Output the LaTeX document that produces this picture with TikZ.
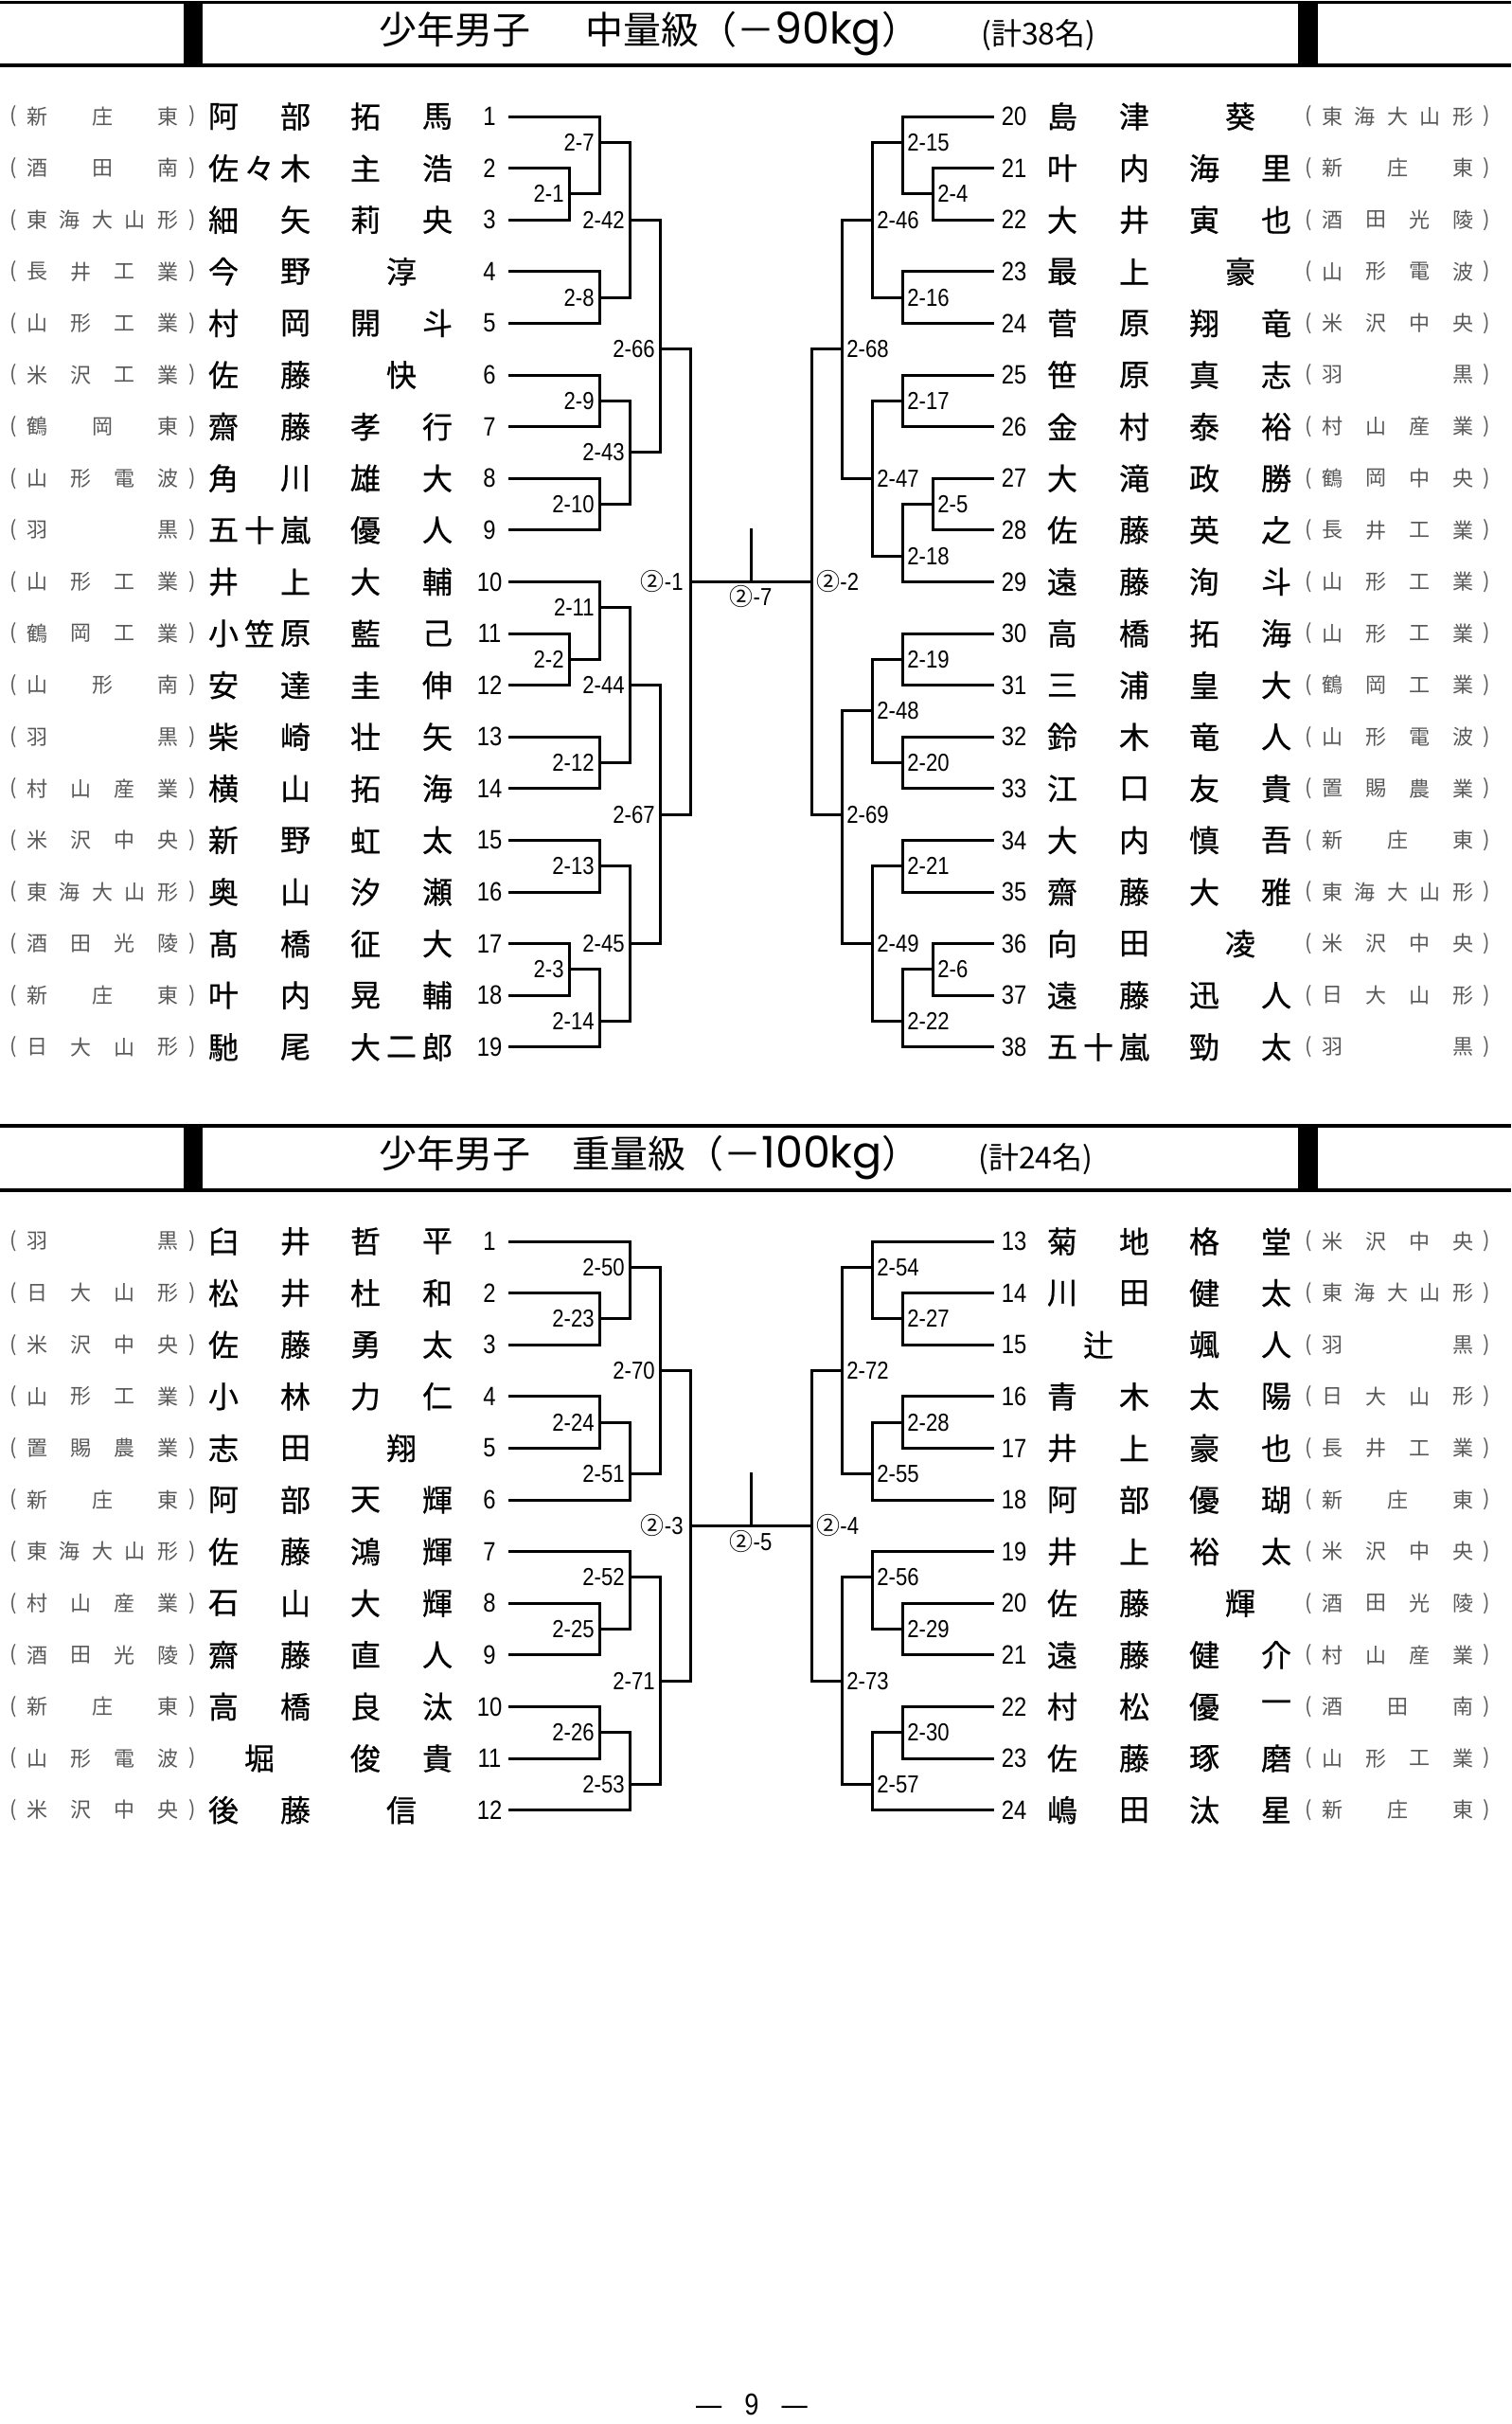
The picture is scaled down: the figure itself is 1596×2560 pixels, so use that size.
\documentclass[tikz,border=0pt]{standalone}
\usepackage{fontspec}
\setmainfont{Liberation Sans}
\newfontfamily\jp{Noto Sans CJK JP}
\newfontfamily\jpb[FakeBold=0.6]{Noto Sans CJK JP}
\newfontfamily\numf[FakeStretch=0.85]{Liberation Sans}
\newfontfamily\kgf{Poppins}
\newcount\spcnt
\newcommand\Spread[5]{%
  \global\spcnt=0
  \foreach \ch in {#5}{\global\advance\spcnt by 1}%
  \ifnum\spcnt=1
    \node[#4] at ({(#1+#2)/2},#3) {#5};%
  \else
    \pgfmathsetmacro\spstep{(#2-#1)/(\the\spcnt-1)}%
    \foreach \ch [count=\i from 0] in {#5}{\node[#4] at ({#1+\i*\spstep},#3) {\ch};}%
  \fi}
\newcommand\EL[5]{%
  \node[par] at (14,#1) {(};\node[par] at (203,#1) {)};
  \Spread{39}{177}{#1}{sc}{#2}
  \Spread{236}{312}{#1}{nm}{#3}
  \Spread{386}{462}{#1}{nm}{#4}
  \node[no] at (517,#1) {#5};}
\newcommand\ER[5]{%
  \node[no] at (1071,#1) {#2};
  \Spread{1122}{1198}{#1}{nm}{#3}
  \Spread{1272}{1348}{#1}{nm}{#4}
  \node[par] at (1382,#1) {(};\node[par] at (1570,#1) {)};
  \Spread{1407}{1545}{#1}{sc}{#5}}
\def\LS{538}\def\RE{1048}
\def\xa{601}\def\xb{633}\def\xc{665}\def\xd{697}\def\xe{729}
\def\xA{985}\def\xB{953}\def\xC{921}\def\xD{889}\def\xE{857}\def\xM{793}
\newcommand\IL[2]{\draw[br] (\LS,#2) -- (#1,#2);}
\newcommand\IR[2]{\draw[br] (#1,#2) -- (\RE,#2);}
\newcommand\BL[6]{\draw[br] (#1,#2) -- (#1,#3) (#1,#4) -- (#5,#4); \node[lbl,anchor=east,xshift=-2.5pt] at (#1,#4) {#6};}
\newcommand\BR[6]{\draw[br] (#1,#2) -- (#1,#3) (#1,#4) -- (#5,#4); \node[lbl,anchor=west,xshift=2.5pt] at (#1,#4) {#6};}
\newcommand\cl[1]{{\jp\fontsize{12.5}{12.5}\selectfont ②}-#1}
\tikzset{
 br/.style={line width=1.5pt, line cap=rect},
 nm/.style={font=\jpb\fontsize{16}{16}\selectfont, inner sep=0},
 sc/.style={font=\jp\fontsize{11}{11}\selectfont, text=black!65, inner sep=0},
 par/.style={sc},
 no/.style={font=\numf\fontsize{14}{14}\selectfont, inner sep=0},
 lbl/.style={font=\numf\fontsize{13}{13}\selectfont, inner sep=0},
 ttl/.style={font=\jp\fontsize{20}{20}\selectfont, inner sep=0, anchor=west},
 cnt/.style={font=\jp\fontsize{16}{16}\selectfont, inner sep=0, anchor=west},
 hline/.style={line width=1.7pt},
}
\begin{document}
\begin{tikzpicture}[x=0.5pt,y=-0.5pt]
\fill[white] (0,0) rectangle (1596,2560);
\useasboundingbox (0,0) rectangle (1596,2560);
% ---------- header 1
\draw[hline] (0,2.5) -- (1596,2.5) (0,69) -- (1596,69);
\fill (194,2.5) rectangle (214,69);
\fill (1371,2.5) rectangle (1392,69);
\node[ttl] (t1) at (400,36) {少年男子　\hspace{9pt}中量級（－{\kgf\fontsize{23}{23}\selectfont 90kg}）};
\node[cnt] (c1) at (1036,37) {(計38名)};
% ---------- header 2
\draw[hline] (0,1189) -- (1596,1189) (0,1257) -- (1596,1257);
\fill (194,1189) rectangle (214,1257);
\fill (1371,1189) rectangle (1392,1257);
\node[ttl] (t2) at (400,1223) {少年男子　\hspace{2pt}重量級（－{\kgf\fontsize{23}{23}\selectfont 100kg}）};
\node[cnt] (c2) at (1033,1224) {(計24名)};
% ---------- entries top left
\EL{123}{新,庄,東}{阿,部}{拓,馬}{1}
\EL{177.6}{酒,田,南}{佐,々,木}{主,浩}{2}
\EL{232.2}{東,海,大,山,形}{細,矢}{莉,央}{3}
\EL{286.8}{長,井,工,業}{今,野}{淳}{4}
\EL{341.4}{山,形,工,業}{村,岡}{開,斗}{5}
\EL{396}{米,沢,工,業}{佐,藤}{快}{6}
\EL{450.6}{鶴,岡,東}{齋,藤}{孝,行}{7}
\EL{505.2}{山,形,電,波}{角,川}{雄,大}{8}
\EL{559.8}{羽,黒}{五,十,嵐}{優,人}{9}
\EL{614.4}{山,形,工,業}{井,上}{大,輔}{10}
\EL{669}{鶴,岡,工,業}{小,笠,原}{藍,己}{11}
\EL{723.6}{山,形,南}{安,達}{圭,伸}{12}
\EL{778.2}{羽,黒}{柴,崎}{壮,矢}{13}
\EL{832.8}{村,山,産,業}{横,山}{拓,海}{14}
\EL{887.4}{米,沢,中,央}{新,野}{虹,太}{15}
\EL{942}{東,海,大,山,形}{奥,山}{汐,瀬}{16}
\EL{996.6}{酒,田,光,陵}{髙,橋}{征,大}{17}
\EL{1051.2}{新,庄,東}{叶,内}{晃,輔}{18}
\EL{1105.8}{日,大,山,形}{馳,尾}{大,二,郎}{19}
% ---------- entries top right
\ER{123}{20}{島,津}{葵}{東,海,大,山,形}
\ER{177.6}{21}{叶,内}{海,里}{新,庄,東}
\ER{232.2}{22}{大,井}{寅,也}{酒,田,光,陵}
\ER{286.8}{23}{最,上}{豪}{山,形,電,波}
\ER{341.4}{24}{菅,原}{翔,竜}{米,沢,中,央}
\ER{396}{25}{笹,原}{真,志}{羽,黒}
\ER{450.6}{26}{金,村}{泰,裕}{村,山,産,業}
\ER{505.2}{27}{大,滝}{政,勝}{鶴,岡,中,央}
\ER{559.8}{28}{佐,藤}{英,之}{長,井,工,業}
\ER{614.4}{29}{遠,藤}{洵,斗}{山,形,工,業}
\ER{669}{30}{高,橋}{拓,海}{山,形,工,業}
\ER{723.6}{31}{三,浦}{皇,大}{鶴,岡,工,業}
\ER{778.2}{32}{鈴,木}{竜,人}{山,形,電,波}
\ER{832.8}{33}{江,口}{友,貴}{置,賜,農,業}
\ER{887.4}{34}{大,内}{慎,吾}{新,庄,東}
\ER{942}{35}{齋,藤}{大,雅}{東,海,大,山,形}
\ER{996.6}{36}{向,田}{凌}{米,沢,中,央}
\ER{1051.2}{37}{遠,藤}{迅,人}{日,大,山,形}
\ER{1105.8}{38}{五,十,嵐}{勁,太}{羽,黒}
% ---------- entries bottom left
\EL{1311}{羽,黒}{臼,井}{哲,平}{1}
\EL{1365.6}{日,大,山,形}{松,井}{杜,和}{2}
\EL{1420.2}{米,沢,中,央}{佐,藤}{勇,太}{3}
\EL{1474.8}{山,形,工,業}{小,林}{力,仁}{4}
\EL{1529.4}{置,賜,農,業}{志,田}{翔}{5}
\EL{1584}{新,庄,東}{阿,部}{天,輝}{6}
\EL{1638.6}{東,海,大,山,形}{佐,藤}{鴻,輝}{7}
\EL{1693.2}{村,山,産,業}{石,山}{大,輝}{8}
\EL{1747.8}{酒,田,光,陵}{齋,藤}{直,人}{9}
\EL{1802.4}{新,庄,東}{高,橋}{良,汰}{10}
\EL{1857}{山,形,電,波}{堀}{俊,貴}{11}
\EL{1911.6}{米,沢,中,央}{後,藤}{信}{12}
% ---------- entries bottom right
\ER{1311}{13}{菊,地}{格,堂}{米,沢,中,央}
\ER{1365.6}{14}{川,田}{健,太}{東,海,大,山,形}
\ER{1420.2}{15}{辻}{颯,人}{羽,黒}
\ER{1474.8}{16}{青,木}{太,陽}{日,大,山,形}
\ER{1529.4}{17}{井,上}{豪,也}{長,井,工,業}
\ER{1584}{18}{阿,部}{優,瑚}{新,庄,東}
\ER{1638.6}{19}{井,上}{裕,太}{米,沢,中,央}
\ER{1693.2}{20}{佐,藤}{輝}{酒,田,光,陵}
\ER{1747.8}{21}{遠,藤}{健,介}{村,山,産,業}
\ER{1802.4}{22}{村,松}{優,一}{酒,田,南}
\ER{1857}{23}{佐,藤}{琢,磨}{山,形,工,業}
\ER{1911.6}{24}{嶋,田}{汰,星}{新,庄,東}
% ---------- top bracket, left
\IL{\xb}{123}\IL{\xa}{177.6}\IL{\xa}{232.2}\IL{\xb}{286.8}\IL{\xb}{341.4}
\IL{\xb}{396}\IL{\xb}{450.6}\IL{\xb}{505.2}\IL{\xb}{559.8}\IL{\xb}{614.4}
\IL{\xa}{669}\IL{\xa}{723.6}\IL{\xb}{778.2}\IL{\xb}{832.8}\IL{\xb}{887.4}
\IL{\xb}{942}\IL{\xa}{996.6}\IL{\xa}{1051.2}\IL{\xb}{1105.8}
\BL{\xa}{177.6}{232.2}{204.9}{\xb}{2-1}
\BL{\xb}{123}{204.9}{150.3}{\xc}{2-7}
\BL{\xb}{286.8}{341.4}{314.1}{\xc}{2-8}
\BL{\xc}{150.3}{314.1}{232.2}{\xd}{2-42}
\BL{\xb}{396}{450.6}{423.3}{\xc}{2-9}
\BL{\xb}{505.2}{559.8}{532.5}{\xc}{2-10}
\BL{\xc}{423.3}{532.5}{477.9}{\xd}{2-43}
\BL{\xd}{232.2}{477.9}{368.7}{\xe}{2-66}
\BL{\xa}{669}{723.6}{696.3}{\xb}{2-2}
\BL{\xb}{614.4}{696.3}{641.7}{\xc}{2-11}
\BL{\xb}{778.2}{832.8}{805.5}{\xc}{2-12}
\BL{\xc}{641.7}{805.5}{723.6}{\xd}{2-44}
\BL{\xb}{887.4}{942}{914.7}{\xc}{2-13}
\BL{\xa}{996.6}{1051.2}{1023.9}{\xb}{2-3}
\BL{\xb}{1023.9}{1105.8}{1078.5}{\xc}{2-14}
\BL{\xc}{914.7}{1078.5}{996.6}{\xd}{2-45}
\BL{\xd}{723.6}{996.6}{860.1}{\xe}{2-67}
% ---------- top bracket, right
\IR{\xB}{123}\IR{\xA}{177.6}\IR{\xA}{232.2}\IR{\xB}{286.8}\IR{\xB}{341.4}
\IR{\xB}{396}\IR{\xB}{450.6}\IR{\xA}{505.2}\IR{\xA}{559.8}\IR{\xB}{614.4}
\IR{\xB}{669}\IR{\xB}{723.6}\IR{\xB}{778.2}\IR{\xB}{832.8}\IR{\xB}{887.4}
\IR{\xB}{942}\IR{\xA}{996.6}\IR{\xA}{1051.2}\IR{\xB}{1105.8}
\BR{\xA}{177.6}{232.2}{204.9}{\xB}{2-4}
\BR{\xB}{123}{204.9}{150.3}{\xC}{2-15}
\BR{\xB}{286.8}{341.4}{314.1}{\xC}{2-16}
\BR{\xC}{150.3}{314.1}{232.2}{\xD}{2-46}
\BR{\xB}{396}{450.6}{423.3}{\xC}{2-17}
\BR{\xA}{505.2}{559.8}{532.5}{\xB}{2-5}
\BR{\xB}{532.5}{614.4}{587.1}{\xC}{2-18}
\BR{\xC}{423.3}{587.1}{505.2}{\xD}{2-47}
\BR{\xD}{232.2}{505.2}{368.7}{\xE}{2-68}
\BR{\xB}{669}{723.6}{696.3}{\xC}{2-19}
\BR{\xB}{778.2}{832.8}{805.5}{\xC}{2-20}
\BR{\xC}{696.3}{805.5}{750.9}{\xD}{2-48}
\BR{\xB}{887.4}{942}{914.7}{\xC}{2-21}
\BR{\xA}{996.6}{1051.2}{1023.9}{\xB}{2-6}
\BR{\xB}{1023.9}{1105.8}{1078.5}{\xC}{2-22}
\BR{\xC}{914.7}{1078.5}{996.6}{\xD}{2-49}
\BR{\xD}{750.9}{996.6}{860.1}{\xE}{2-69}
% ---------- top final
\draw[br] (\xe,368.7) -- (\xe,860.1) (\xE,368.7) -- (\xE,860.1) (\xe,614.4) -- (\xE,614.4) (\xM,559.8) -- (\xM,614.4);
\node[lbl,anchor=east,xshift=-3.5pt] (f1) at (\xe,614.4) {\cl{1}};
\node[lbl,anchor=west,xshift=2.5pt] (f2) at (\xE,614.4) {\cl{2}};
\node[lbl] (f7) at (\xM,630) {\cl{7}};
% ---------- bottom bracket, left
\IL{\xc}{1311}\IL{\xb}{1365.6}\IL{\xb}{1420.2}\IL{\xb}{1474.8}\IL{\xb}{1529.4}\IL{\xc}{1584}
\IL{\xc}{1638.6}\IL{\xb}{1693.2}\IL{\xb}{1747.8}\IL{\xb}{1802.4}\IL{\xb}{1857}\IL{\xc}{1911.6}
\BL{\xb}{1365.6}{1420.2}{1392.9}{\xc}{2-23}
\BL{\xc}{1311}{1392.9}{1338.3}{\xd}{2-50}
\BL{\xb}{1474.8}{1529.4}{1502.1}{\xc}{2-24}
\BL{\xc}{1502.1}{1584}{1556.7}{\xd}{2-51}
\BL{\xd}{1338.3}{1556.7}{1447.5}{\xe}{2-70}
\BL{\xb}{1693.2}{1747.8}{1720.5}{\xc}{2-25}
\BL{\xc}{1638.6}{1720.5}{1665.9}{\xd}{2-52}
\BL{\xb}{1802.4}{1857}{1829.7}{\xc}{2-26}
\BL{\xc}{1829.7}{1911.6}{1884.3}{\xd}{2-53}
\BL{\xd}{1665.9}{1884.3}{1775.1}{\xe}{2-71}
% ---------- bottom bracket, right
\IR{\xC}{1311}\IR{\xB}{1365.6}\IR{\xB}{1420.2}\IR{\xB}{1474.8}\IR{\xB}{1529.4}\IR{\xC}{1584}
\IR{\xC}{1638.6}\IR{\xB}{1693.2}\IR{\xB}{1747.8}\IR{\xB}{1802.4}\IR{\xB}{1857}\IR{\xC}{1911.6}
\BR{\xB}{1365.6}{1420.2}{1392.9}{\xC}{2-27}
\BR{\xC}{1311}{1392.9}{1338.3}{\xD}{2-54}
\BR{\xB}{1474.8}{1529.4}{1502.1}{\xC}{2-28}
\BR{\xC}{1502.1}{1584}{1556.7}{\xD}{2-55}
\BR{\xD}{1338.3}{1556.7}{1447.5}{\xE}{2-72}
\BR{\xB}{1693.2}{1747.8}{1720.5}{\xC}{2-29}
\BR{\xC}{1638.6}{1720.5}{1665.9}{\xD}{2-56}
\BR{\xB}{1802.4}{1857}{1829.7}{\xC}{2-30}
\BR{\xC}{1829.7}{1911.6}{1884.3}{\xD}{2-57}
\BR{\xD}{1665.9}{1884.3}{1775.1}{\xE}{2-73}
% ---------- bottom final
\draw[br] (\xe,1447.5) -- (\xe,1775.1) (\xE,1447.5) -- (\xE,1775.1) (\xe,1611.3) -- (\xE,1611.3) (\xM,1556.7) -- (\xM,1611.3);
\node[lbl,anchor=east,xshift=-3.5pt] (f3) at (\xe,1611.3) {\cl{3}};
\node[lbl,anchor=west,xshift=2.5pt] (f4) at (\xE,1611.3) {\cl{4}};
\node[lbl] (f5) at (\xM,1628) {\cl{5}};
% ---------- page number
\node[font=\numf\fontsize{16}{16}\selectfont, inner sep=0] (pg) at (794,2539) {—\hspace{12pt}9\hspace{12pt}—};
\end{tikzpicture}
\end{document}
